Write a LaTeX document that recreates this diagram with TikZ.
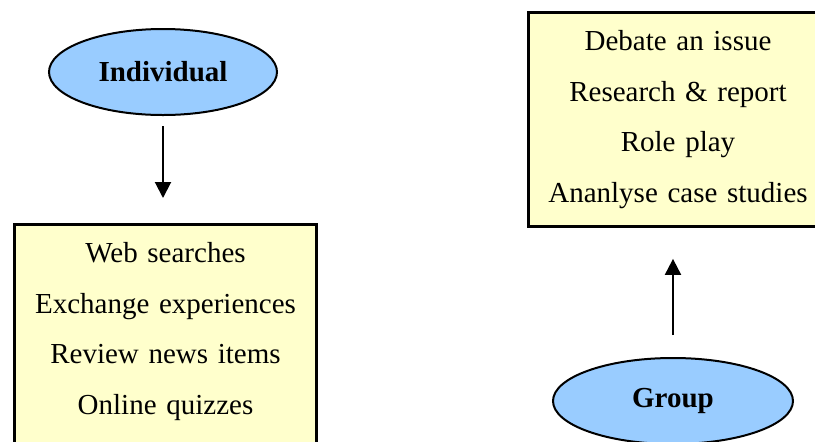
\documentclass[tikz,border=0pt]{standalone}
\usepackage{fontspec}
\setmainfont{Liberation Serif}
\usetikzlibrary{shapes.geometric,arrows.meta}
\definecolor{ovalblue}{HTML}{99CCFF}
\definecolor{boxyellow}{HTML}{FFFFCC}
\begin{document}
\begin{tikzpicture}[x=0.5pt, y=-0.5pt,
        oval/.style={ellipse, draw=black, line width=1pt, fill=ovalblue,
            minimum width=114pt, minimum height=43pt, inner sep=0pt,
            font=\fontsize{14.5}{17}\selectfont\bfseries},
        listbox/.style={rectangle, draw=black, line width=1.5pt, fill=boxyellow,
            text width=141pt, inner xsep=5pt, inner ysep=9pt, align=center,
            font=\fontsize{14.5}{25.25}\selectfont},
        arr/.style={-{Triangle[length=8pt,width=8pt]}, line width=1pt}]
        \useasboundingbox (0,0) rectangle (815,441);

        \node[oval] (ind) at (163,72) {Individual};
        \node[listbox, anchor=north west] (web) at (13,223)
            {Web searches\\ Exchange experiences\\ Review news items\\ Online quizzes\\ \mbox{}};

        \node[listbox, anchor=north west, text width=139.5pt] (act) at (527,11)
            {Debate an issue\\ Research \& report\\ Role play\\ Ananlyse case studies};
        \node[oval, minimum width=120pt] (grp) at (673,401) {Group};

        \draw[arr, shorten <=5pt, shorten >=12.5pt] (ind.south) -- (ind.south |- web.north);
        \draw[arr, shorten <=11pt, shorten >=15.5pt] (grp.north) -- (grp.north |- act.south);
    \end{tikzpicture}
\end{document}
